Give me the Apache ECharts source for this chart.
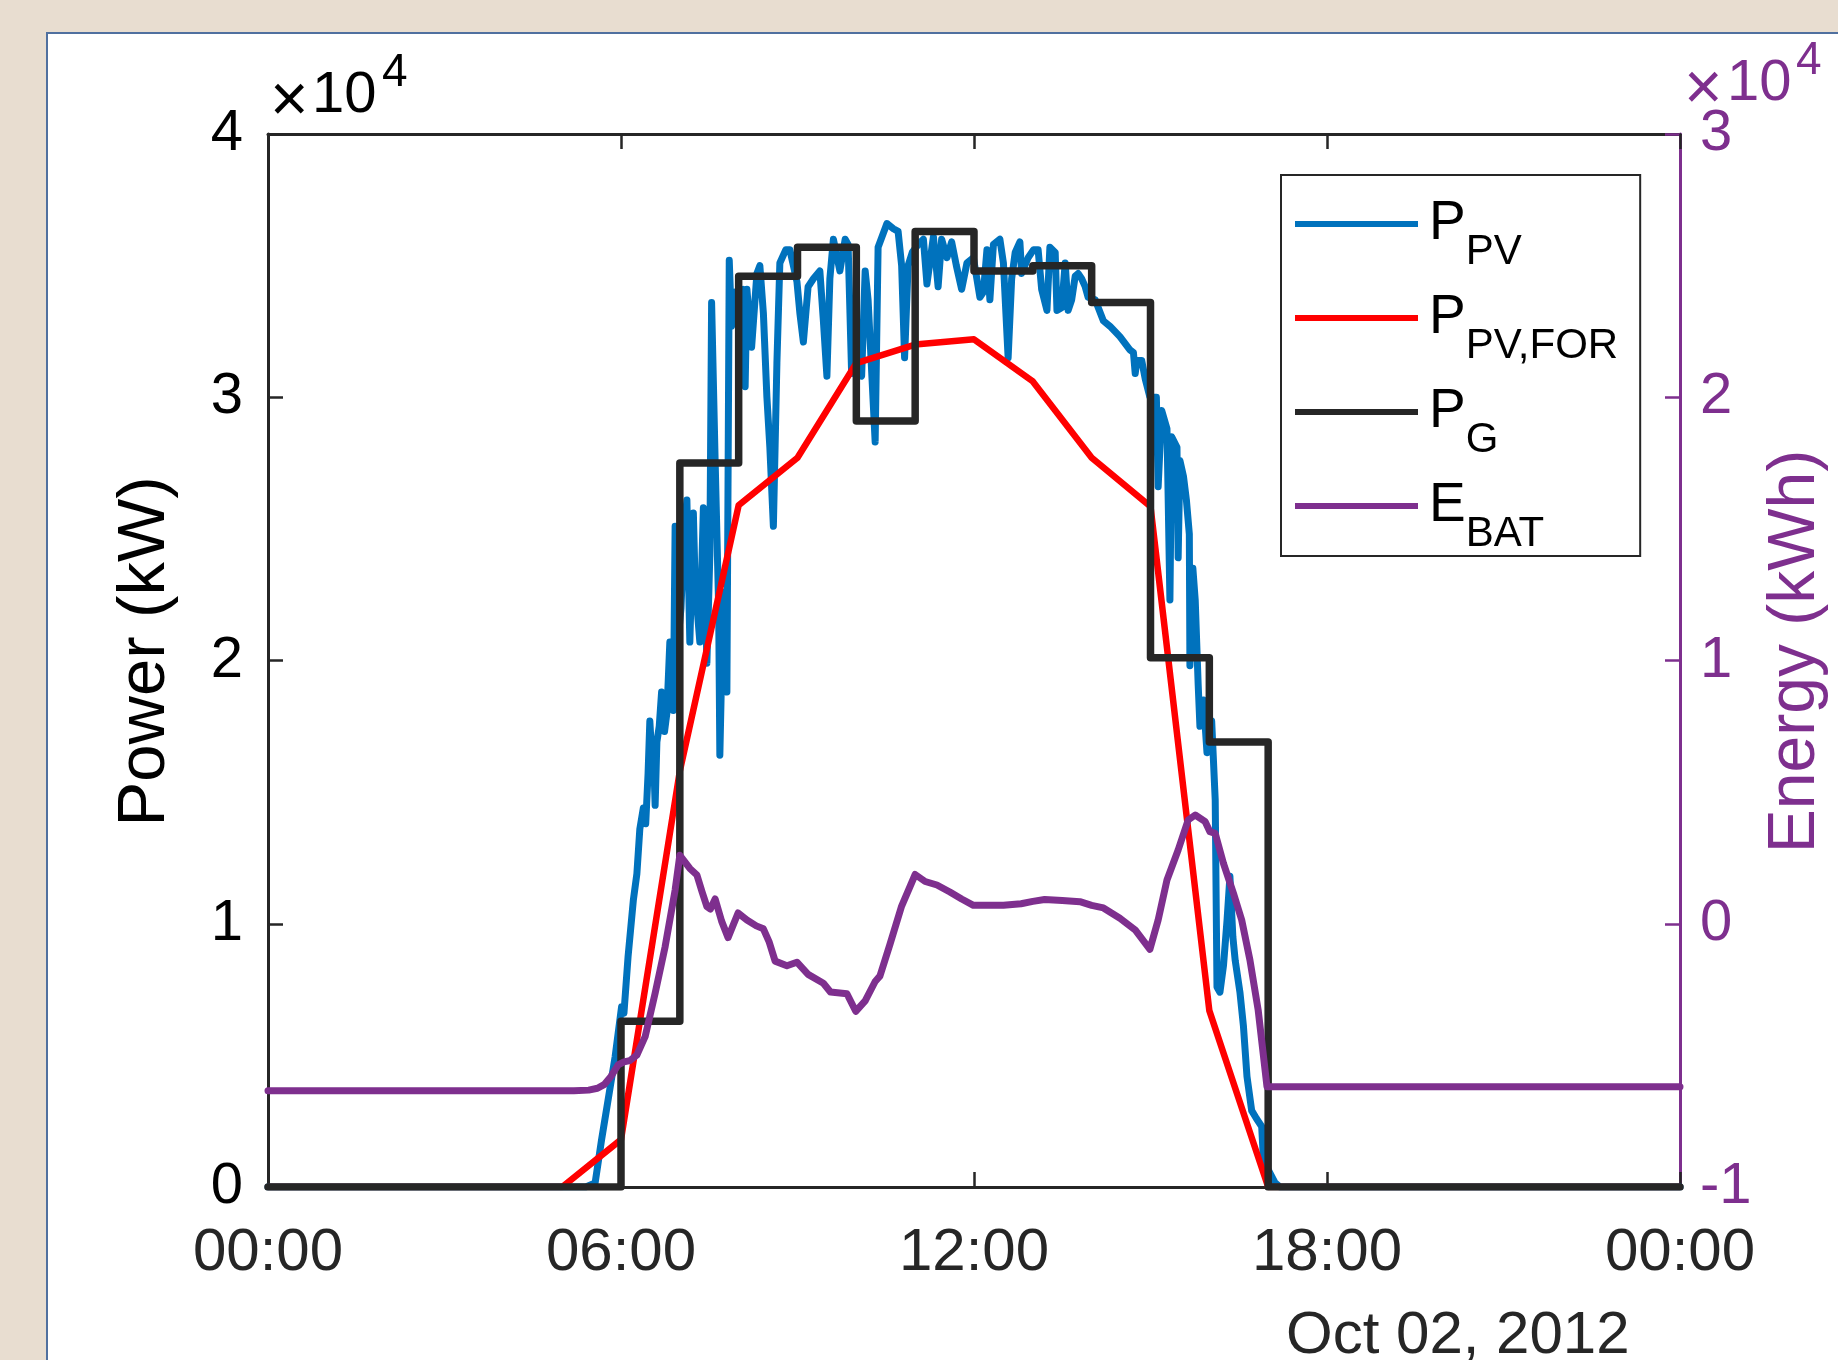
<!DOCTYPE html>
<html>
<head>
<meta charset="utf-8">
<script src="https://cdn.jsdelivr.net/npm/echarts@6/dist/echarts.min.js"></script>
<style>
html,body{margin:0;padding:0;background:#E8DDD0;width:1838px;height:1360px;overflow:hidden;}
#panel{position:absolute;left:46px;top:32px;width:1800px;height:1340px;background:#ffffff;border-left:2px solid #50709F;border-top:2px solid #50709F;}
#chart{position:absolute;left:0;top:0;width:1838px;height:1360px;}
</style>
</head>
<body>
<div id="panel"></div>
<div id="chart"></div>
<script>
// ---- data (hours of day, kW / kWh) ----
const xTickHours = [0, 6, 12, 18, 24];
const xTickLabels = ['00:00', '06:00', '12:00', '18:00', '00:00'];
const dateLabel = 'Oct 02, 2012';

const pvHours = [0,5.40,5.56,5.67,5.78,5.90,6.01,6.05,6.12,6.21,6.27,6.32,6.38,6.42,6.46,6.49,6.52,6.55,6.58,6.61,6.65,6.69,6.74,6.78,6.83,6.89,6.92,6.96,7.02,7.07,7.12,7.17,7.23,7.26,7.34,7.40,7.46,7.51,7.54,7.60,7.66,7.68,7.74,7.80,7.84,7.88,7.94,8.02,8.08,8.11,8.14,8.22,8.31,8.36,8.42,8.48,8.53,8.59,8.65,8.70,8.80,8.87,8.99,9.04,9.10,9.18,9.27,9.38,9.44,9.50,9.55,9.61,9.72,9.81,9.86,9.92,10.01,10.09,10.15,10.20,10.32,10.37,10.52,10.63,10.71,10.77,10.82,10.88,10.95,11.05,11.14,11.20,11.31,11.39,11.45,11.54,11.62,11.70,11.79,11.88,11.99,12.10,12.16,12.22,12.27,12.33,12.44,12.50,12.58,12.64,12.70,12.78,12.81,12.92,13.01,13.09,13.15,13.24,13.29,13.38,13.41,13.49,13.55,13.60,13.66,13.72,13.77,13.83,13.89,13.94,14.06,14.20,14.31,14.48,14.65,14.71,14.74,14.77,14.85,14.91,14.99,15.10,15.13,15.19,15.28,15.33,15.36,15.45,15.47,15.50,15.56,15.61,15.66,15.67,15.72,15.76,15.81,15.84,15.90,15.96,16.04,16.10,16.13,16.18,16.24,16.30,16.35,16.40,16.44,16.52,16.58,16.64,16.72,16.80,16.89,16.92,17.06,17.12,17.20,24];
const pvPower = [0,0,150,1800,3300,4950,6850,6600,8750,10900,11900,13600,14400,13800,15700,17700,16500,16700,14500,16900,17500,18800,17300,18000,20700,18100,25100,20500,22000,24800,26100,20700,25600,22900,20700,25800,19900,24000,33600,27600,22000,16400,22600,18800,35200,32700,34000,33500,34100,30400,34100,31900,34700,35000,33200,30000,28100,25100,31300,35100,35600,35600,34400,33200,32100,34200,34500,34800,32900,30800,34500,36000,34800,36000,35800,30900,31200,30800,34800,33700,28300,35700,36600,36400,36300,35000,31500,35000,35500,35800,36000,34300,36100,34200,36000,35300,35900,35000,34100,35100,35300,33800,34000,35600,33700,35800,36000,35100,31500,34500,35500,35900,34700,35300,35600,35600,34100,33300,35700,35500,33300,33400,35100,33300,33700,34600,34700,34500,34200,33800,33700,32900,32700,32300,31800,31700,30900,31400,31400,30700,30000,30000,26600,29500,28800,22300,28500,28100,23900,27600,27000,26100,24800,19800,23500,22300,19100,17500,18500,16500,17700,14700,7600,7400,8400,10100,11800,9500,8600,7400,6100,4200,2900,2600,2300,1000,400,150,0,0];

const forHours = [0,1,2,3,4,5,6,7,8,9,10,11,12,13,14,15,16,17,18,19,20,21,22,23,24];
const forPower = [0,0,0,0,0,0,1800,15800,25900,27700,31300,32000,32200,30600,27700,25850,6700,0,0,0,0,0,0,0,0];

const gridHours = [0,6,7,8,9,10,11,12,13,14,15,16,17,24];
const gridPower = [0,6300,27500,34600,35700,29100,36300,34800,35000,33600,20100,16900,0,0];

const batHours = [0,5.20,5.45,5.60,5.72,5.83,5.95,6.05,6.15,6.27,6.41,6.58,6.75,6.92,7.00,7.17,7.29,7.38,7.46,7.52,7.60,7.71,7.82,7.99,8.14,8.30,8.42,8.52,8.62,8.82,8.99,9.18,9.44,9.56,9.84,9.99,10.15,10.32,10.40,10.57,10.77,11.00,11.17,11.37,11.59,11.79,11.99,12.27,12.50,12.80,13.00,13.20,13.50,13.80,14.00,14.20,14.48,14.74,14.99,15.13,15.28,15.47,15.64,15.76,15.93,16.01,16.10,16.24,16.41,16.55,16.69,16.83,16.98,24];
const batEnergy = [-6340,-6340,-6320,-6250,-6100,-5800,-5365,-5250,-5200,-4985,-4290,-2640,-870,1280,2600,2100,1850,1200,650,560,940,100,-526,409,143,-80,-192,-700,-1420,-1593,-1460,-1924,-2258,-2593,-2657,-3326,-2927,-2194,-1992,-792,674,1871,1605,1472,1206,940,700,700,700,760,850,920,880,840,700,600,207,-237,-970,143,1662,2802,3941,4131,3878,3498,3435,2296,1157,143,-1377,-3276,-6190,-6190];

const seriesNames = ['P_PV', 'P_PV,FOR', 'P_G', 'E_BAT'];
const legendMain = ['P', 'P', 'P', 'E'];
const legendSub = ['PV', 'PV,FOR', 'G', 'BAT'];
const leftTitle = 'Power (kW)';
const rightTitle = 'Energy (kWh)';
const scaleMain = '10';
const scaleExp = '4';

// ---- styling ----
const FONT = 'Liberation Sans, Arial, Helvetica, sans-serif';
const C_AX = '#262626';
const C_BLUE = '#0072BD';
const C_RED = '#FF0000';
const C_BLK = '#262626';
const C_PUR = '#7E2F8E';

const zip = (a, b) => a.map((v, i) => [v, b[i]]);
const fmtHour = v => {
  const i = xTickHours.indexOf(v);
  return i >= 0 ? xTickLabels[i] : '';
};

const chart = echarts.init(document.getElementById('chart'), null, {renderer: 'canvas'});

const xCommon = {
  type: 'value', min: 0, max: 24, interval: 6,
  splitLine: {show: false},
  axisLine: {show: true, onZero: false, lineStyle: {color: C_AX, width: 3}},
  axisTick: {show: true, inside: true, length: 15, lineStyle: {color: C_AX, width: 2.5}}
};

const legendNameMap = {};
seriesNames.forEach((n, i) => { legendNameMap[n] = '{m|' + legendMain[i] + '}{s|' + legendSub[i] + '}'; });

const option = {
  animation: false,
  textStyle: {fontFamily: FONT},
  grid: {left: 268, right: 158, top: 134, bottom: 173, containLabel: false},
  xAxis: [
    Object.assign({}, xCommon, {
      position: 'bottom',
      axisLabel: {show: true, margin: 36, fontSize: 60, color: C_AX, fontFamily: FONT, formatter: fmtHour, showMinLabel: true, showMaxLabel: true}
    }),
    Object.assign({}, xCommon, {
      position: 'top',
      axisLabel: {show: false}
    })
  ],
  yAxis: [
    {
      type: 'value', min: 0, max: 40000, interval: 10000, position: 'left',
      name: leftTitle, nameLocation: 'middle', nameRotate: 90, nameGap: 89,
      nameTextStyle: {fontSize: 67, color: '#000000', fontFamily: FONT, padding: [0, 0, 0, 18]},
      splitLine: {show: false},
      axisLine: {show: true, onZero: false, lineStyle: {color: C_AX, width: 3}},
      axisTick: {show: true, inside: true, length: 15, lineStyle: {color: C_AX, width: 2.5}},
      axisLabel: {margin: 25, fontSize: 58, color: '#000000', fontFamily: FONT, formatter: v => String(v / 10000)}
    },
    {
      type: 'value', min: -10000, max: 30000, interval: 10000, position: 'right',
      name: rightTitle, nameLocation: 'middle', nameRotate: 90, nameGap: 75,
      nameTextStyle: {fontSize: 66, color: C_PUR, fontFamily: FONT, padding: [0, 0, 0, 18]},
      splitLine: {show: false},
      axisLine: {show: true, onZero: false, lineStyle: {color: C_PUR, width: 3}},
      axisTick: {show: true, inside: true, length: 15, lineStyle: {color: C_PUR, width: 2.5}},
      axisLabel: {margin: 20, fontSize: 58, color: C_PUR, fontFamily: FONT, formatter: v => String(v / 10000)}
    }
  ],
  legend: {
    orient: 'vertical', left: 1281, top: 175,
    padding: [21, 22, 1, 14], itemGap: 17, itemWidth: 123, itemHeight: 6,
    icon: 'rect', borderColor: C_AX, borderWidth: 2, borderRadius: 0, backgroundColor: '#ffffff',
    data: seriesNames,
    selectedMode: false,
    formatter: n => legendNameMap[n],
    textStyle: {
      color: '#000000',
      rich: {
        m: {fontSize: 55, lineHeight: 56, padding: [0, 0, 0, 6], verticalAlign: 'top', fontFamily: FONT, color: '#000000'},
        s: {fontSize: 42, lineHeight: 36, padding: [35, 0, 0, 0], verticalAlign: 'top', fontFamily: FONT, color: '#000000'}
      }
    }
  },
  graphic: [
    {type: 'text', x: 270, y: 103, style: {text: '\u00D7', fontSize: 66, fontFamily: FONT, fill: '#000000', verticalAlign: 'middle', align: 'left'}},
    {type: 'text', x: 312, y: 96, style: {text: scaleMain, fontSize: 58, fontFamily: FONT, fill: '#000000', verticalAlign: 'middle', align: 'left'}},
    {type: 'text', x: 382, y: 73, style: {text: scaleExp, fontSize: 46, fontFamily: FONT, fill: '#000000', verticalAlign: 'middle', align: 'left'}},
    {type: 'text', x: 1684, y: 91, style: {text: '\u00D7', fontSize: 66, fontFamily: FONT, fill: C_PUR, verticalAlign: 'middle', align: 'left'}},
    {type: 'text', x: 1727, y: 84, style: {text: scaleMain, fontSize: 58, fontFamily: FONT, fill: C_PUR, verticalAlign: 'middle', align: 'left'}},
    {type: 'text', x: 1796, y: 61, style: {text: scaleExp, fontSize: 46, fontFamily: FONT, fill: C_PUR, verticalAlign: 'middle', align: 'left'}},
    {type: 'text', x: 1286, y: 1336, style: {text: dateLabel, fontSize: 60, fontFamily: FONT, fill: C_AX, verticalAlign: 'middle', align: 'left'}}
  ],
  series: [
    {
      name: seriesNames[0], type: 'line', xAxisIndex: 0, yAxisIndex: 0,
      data: zip(pvHours, pvPower), showSymbol: false, symbol: 'none',
      color: C_BLUE, itemStyle: {color: C_BLUE},
      lineStyle: {color: C_BLUE, width: 7, join: 'round', cap: 'round'}
    },
    {
      name: seriesNames[1], type: 'line', xAxisIndex: 0, yAxisIndex: 0,
      data: zip(forHours, forPower), showSymbol: false, symbol: 'none',
      color: C_RED, itemStyle: {color: C_RED},
      lineStyle: {color: C_RED, width: 6.5, join: 'round'}
    },
    {
      name: seriesNames[2], type: 'line', step: 'end', xAxisIndex: 0, yAxisIndex: 0,
      data: zip(gridHours, gridPower), showSymbol: false, symbol: 'none',
      color: C_BLK, itemStyle: {color: C_BLK},
      lineStyle: {color: C_BLK, width: 7.5, join: 'round', cap: 'round'}
    },
    {
      name: seriesNames[3], type: 'line', xAxisIndex: 0, yAxisIndex: 1,
      data: zip(batHours, batEnergy), showSymbol: false, symbol: 'none',
      color: C_PUR, itemStyle: {color: C_PUR},
      lineStyle: {color: C_PUR, width: 7, join: 'round', cap: 'round'}
    }
  ]
};

chart.setOption(option);
</script>
</body>
</html>
